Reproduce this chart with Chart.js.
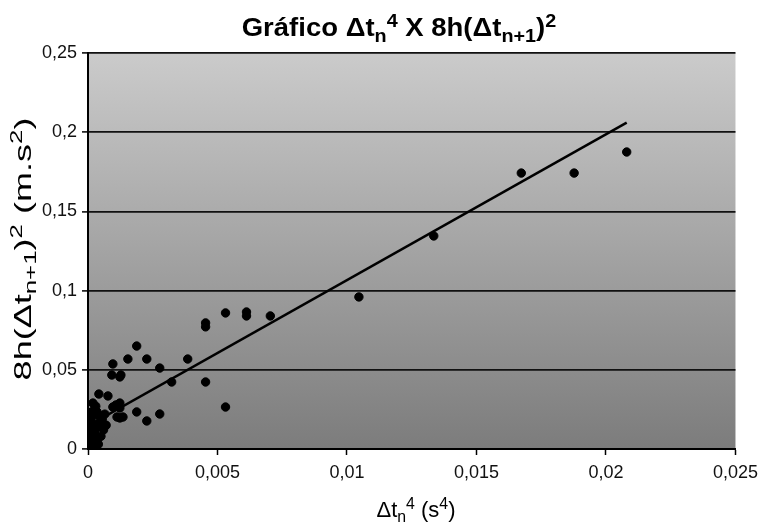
<!DOCTYPE html>
<html>
<head>
<meta charset="utf-8">
<script src="https://cdn.jsdelivr.net/npm/chart.js@4"></script>
<style>
    body { margin: 0; background: #fff; }
    #box { width: 765px; height: 527px; }
</style>
</head>
<body>
<div id="box"><canvas id="chart"></canvas></div>
<script>
// measured points (x = Δtn^4 in s^4, y = 8h(Δtn+1)^2)
var xVals = [0.0208, 0.01877, 0.01673, 0.01335, 0.01046, 0.00704, 0.00612, 0.00612, 0.00531, 0.00454,
    0.00454, 0.00454, 0.00531, 0.00385, 0.00323, 0.00277, 0.00277, 0.00188, 0.00154, 0.00227,
    0.00096, 0.00092, 0.00127, 0.00123, 0.00042, 0.00077, 0.00019, 0.00123, 0.00096, 0.00123,
    0.00188, 0.00227, 0.00123, 0.00015, 0.00035, 0.00108, 0.00135, 0.00112, 0.00027, 0.00065,
    0.00002, 0.00005, 0.0001, 0.00003, 0.00008, 0.00015, 0.0002, 0.00025, 0.0003, 0.00035,
    0.0004, 0.00012, 0.0002, 0.00045, 0.0005, 0.0006, 0.00055, 0.0007, 0.00065, 0.0003,
    0.0001, 0.00001, 0.0004, 0.00018, 0.00033];
var yVals = [0.1875, 0.1742, 0.1742, 0.1345, 0.096, 0.084, 0.0865, 0.084, 0.0859, 0.0796,
    0.0771, 0.0423, 0.0265, 0.0568, 0.0423, 0.0221, 0.0511, 0.065, 0.0568, 0.0568,
    0.0537, 0.0467, 0.0467, 0.0455, 0.0347, 0.0335, 0.029, 0.029, 0.0265, 0.0259,
    0.0234, 0.0177, 0.0196, 0.0234, 0.0234, 0.0278, 0.0202, 0.0202, 0.0234, 0.0152,
    0.002, 0.005, 0.008, 0.011, 0.014, 0.017, 0.004, 0.01, 0.013, 0.006,
    0.003, 0.02, 0.024, 0.016, 0.008, 0.012, 0.019, 0.015, 0.022, 0.027,
    0.001, 0.006, 0.021, 0.0005, 0.0045];

// linear trend line
var trendX = [0, 0.0208];
var trendY = [0.0146, 0.206];

var points = xVals.map(function(x, i) { return { x: x, y: yVals[i] }; });
var trend = trendX.map(function(x, i) { return { x: x, y: trendY[i] }; });

var FONT = '"Liberation Sans", Arial, sans-serif';
var SMALL = 0.72;   // size of sub / superscripts

// draws text made of normal / sub / sup pieces, centred on (cx, baseline)
function richWidth(ctx, parts, size, bold) {
    var w = 0;
    parts.forEach(function(p) {
        var s = p[1] ? size * SMALL : size;
        ctx.font = (bold ? 'bold ' : '') + s + 'px ' + FONT;
        w += ctx.measureText(p[0]).width;
    });
    return w;
}
function drawRich(ctx, parts, cx, baseline, size, bold, stretch) {
    ctx.save();
    ctx.translate(cx, baseline);
    ctx.scale(stretch || 1, 1);
    var x = -richWidth(ctx, parts, size, bold) / 2;
    ctx.textBaseline = 'alphabetic';
    ctx.textAlign = 'left';
    ctx.fillStyle = '#000';
    parts.forEach(function(p) {
        var s = p[1] ? size * SMALL : size;
        var dy = p[1] === 1 ? size * 0.22 : (p[1] === 2 ? -size * 0.38 : 0);
        ctx.font = (bold ? 'bold ' : '') + s + 'px ' + FONT;
        ctx.fillText(p[0], x, dy);
        x += ctx.measureText(p[0]).width;
    });
    ctx.restore();
}

var labelsPlugin = {
    id: 'labels',
    beforeDraw: function(chart) {   // grey gradient behind the plot
        var a = chart.chartArea, ctx = chart.ctx;
        var g = ctx.createLinearGradient(0, a.top, 0, a.bottom);
        g.addColorStop(0, '#cbcbcb');
        g.addColorStop(1, '#7c7c7c');
        ctx.save();
        ctx.fillStyle = g;
        ctx.fillRect(a.left, a.top, a.right - a.left, a.bottom - a.top);
        ctx.restore();
    },
    afterDraw: function(chart) {
        var ctx = chart.ctx;
        drawRich(ctx, [['Gráfico Δt', 0], ['n', 1], ['4', 2], [' X 8h(Δt', 0], ['n+1', 1], [')', 0], ['2', 2]], 399, 36, 25, true, 1.1);
        drawRich(ctx, [['Δt', 0], ['n', 1], ['4', 2], [' (s', 0], ['4', 2], [')', 0]], 416, 517, 22, false, 1);
        ctx.save();
        ctx.translate(31, 249);
        ctx.rotate(-Math.PI / 2);
        drawRich(ctx, [['8h(Δt', 0], ['n+1', 1], [')', 0], ['2', 2], [' (m.s', 0], ['2', 2], [')', 0]], 0, 0, 24, false, 1.5);
        ctx.restore();
    }
};

function fmt(v, d) {
    var r = Math.round(v * Math.pow(10, d)) / Math.pow(10, d);
    return String(r).replace('.', ',');
}

var chart = new Chart(document.getElementById('chart'), {
    type: 'scatter',
    data: {
        datasets: [{
            data: points,
            backgroundColor: '#000',
            borderColor: '#000',
            pointRadius: 4.2,
            pointHoverRadius: 4.2
        }, {
            type: 'line',
            data: trend,
            borderColor: '#000',
            borderWidth: 2.5,
            pointRadius: 0,
            fill: false
        }]
    },
    options: {
        responsive: true,
        maintainAspectRatio: false,
        animation: false,
        layout: { padding: { left: 0, top: 53, right: 27, bottom: 0 } },
        plugins: {
            legend: { display: false },
            title: { display: false },
            tooltip: { enabled: false }
        },
        scales: {
            x: {
                type: 'linear',
                min: 0,
                max: 0.025,
                afterFit: function(scale) { scale.height = 78; },
                ticks: {
                    stepSize: 0.005,
                    color: '#111',
                    padding: 7,
                    font: { family: FONT, size: 18 },
                    callback: function(v) { return fmt(v, 3); }
                },
                grid: { drawOnChartArea: false, drawTicks: true, tickLength: 6, tickColor: '#000', tickWidth: 1.5 },
                border: { color: '#000', width: 2 }
            },
            y: {
                min: 0,
                max: 0.25,
                afterFit: function(scale) { scale.width = 88; },
                ticks: {
                    stepSize: 0.05,
                    color: '#111',
                    padding: 5,
                    font: { family: FONT, size: 18 },
                    callback: function(v) { return fmt(v, 2); }
                },
                grid: { color: '#111', lineWidth: 1.8, tickLength: 6, tickColor: '#000', tickWidth: 1.5 },
                border: { color: '#000', width: 2 }
            }
        }
    },
    plugins: [labelsPlugin]
});
</script>
</body>
</html>
